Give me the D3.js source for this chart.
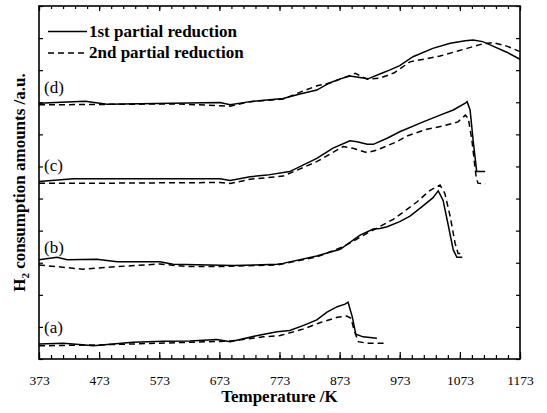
<!DOCTYPE html>
<html>
<head>
<meta charset="utf-8">
<script src="https://cdn.jsdelivr.net/npm/d3@7"></script>
<style>
  html, body { margin: 0; padding: 0; background: #fff; }
  svg { display: block; }
  text { font-family: "Liberation Serif", "Times New Roman", serif; fill: #000; }
</style>
</head>
<body>
<svg id="chart" width="547" height="413"></svg>
<script>
// H2-TPR profiles, temperature in K, signal in arbitrary units (offset per sample)
const xTickLabels = [373, 473, 573, 673, 773, 873, 973, 1073, 1173];
const yTickValues = [0, 1, 2, 3, 4, 5, 6, 7, 8, 9, 10, 11];
const seriesNames = ["1st partial reduction", "2nd partial reduction"];
const curveLabels = ["(a)", "(b)", "(c)", "(d)"];
const labelPositions = [0.8, 3.3, 5.85, 8.3]; // label baselines in a.u.

const aFirst = [[373,0.47],[413,0.49],[440,0.45],[463,0.41],[529,0.52],[580,0.55],[624,0.56],[669,0.61],[691,0.54],[741,0.75],[769,0.85],[790,0.89],[812,1.04],[835,1.22],[852,1.46],[869,1.63],[882,1.71],[887,1.77],[894,1.32],[900,0.77],[912,0.69],[935,0.65]];
const aSecond = [[373,0.41],[474,0.44],[624,0.52],[691,0.56],[746,0.69],[774,0.73],[812,0.93],[840,1.13],[869,1.30],[885,1.34],[892,1.27],[897,0.90],[904,0.54],[919,0.49],[952,0.49]];

const bFirst = [[373,3.09],[403,3.17],[420,3.09],[469,3.11],[503,3.03],[574,3.03],[596,2.95],[696,2.91],[769,2.95],[779,2.98],[835,3.21],[874,3.42],[907,3.86],[929,4.05],[940,4.07],[952,4.12],[973,4.28],[990,4.45],[1007,4.70],[1028,5.02],[1037,5.24],[1045,4.95],[1053,4.23],[1062,3.40],[1068,3.17],[1077,3.17]];
const bSecond = [[373,2.93],[446,2.80],[503,2.88],[574,2.96],[619,2.88],[669,2.88],[769,2.93],[835,3.18],[879,3.50],[919,3.92],[962,4.35],[985,4.66],[1002,4.90],[1023,5.25],[1040,5.42],[1048,5.16],[1057,4.43],[1065,3.61],[1070,3.29],[1078,3.29]];

const cFirst = [[373,5.53],[430,5.62],[674,5.62],[691,5.56],[724,5.68],[752,5.73],[790,5.84],[835,6.25],[862,6.57],[890,6.80],[902,6.77],[919,6.69],[929,6.69],[952,6.88],[973,7.08],[1012,7.39],[1040,7.60],[1062,7.76],[1082,7.97],[1085,8.02],[1090,7.76],[1095,6.82],[1101,5.84],[1115,5.84]];
const cSecond = [[373,5.48],[500,5.48],[674,5.50],[691,5.47],[724,5.60],[779,5.70],[835,6.15],[879,6.62],[895,6.57],[919,6.43],[935,6.51],[968,6.77],[985,6.95],[1018,7.16],[1045,7.26],[1070,7.39],[1082,7.60],[1087,7.50],[1093,6.82],[1100,5.68],[1103,5.48],[1115,5.45]];

const dFirst = [[373,7.97],[410,8.00],[450,8.03],[486,7.94],[674,7.99],[691,7.92],[724,8.02],[752,8.07],[779,8.12],[807,8.26],[835,8.38],[857,8.61],[874,8.73],[890,8.82],[904,8.78],[920,8.73],[945,8.92],[957,9.01],[973,9.14],[995,9.42],[1028,9.68],[1057,9.84],[1082,9.92],[1095,9.94],[1111,9.89],[1128,9.75],[1151,9.56],[1173,9.34]];
const dSecond = [[373,7.92],[450,7.93],[600,7.95],[691,7.88],[724,8.02],[779,8.10],[819,8.40],[837,8.52],[857,8.60],[899,8.90],[919,8.72],[940,8.75],[964,8.92],[990,9.26],[1040,9.44],[1085,9.68],[1111,9.82],[1128,9.86],[1151,9.75],[1173,9.58]];

const firstRuns = [aFirst, bFirst, cFirst, dFirst];
const secondRuns = [aSecond, bSecond, cSecond, dSecond];

const W = 547, H = 413;
const margin = { top: 6, right: 27, bottom: 54, left: 39 };
const svg = d3.select("#chart");

const x = d3.scaleLinear().domain([373, 1173]).range([margin.left, W - margin.right]);
const y = d3.scaleLinear().domain([0, 11]).range([H - margin.bottom, margin.top]);

const minorTicks = d3.range(373, 1174, 20);

// plotted profiles
const line = d3.line().x(d => x(d[0])).y(d => y(d[1]));
const plot = svg.append("g").attr("fill", "none").attr("stroke", "#000");
firstRuns.forEach(run => {
  plot.append("path").attr("d", line(run)).attr("stroke-width", 1.5);
});
secondRuns.forEach(run => {
  plot.append("path").attr("d", line(run)).attr("stroke-width", 1.5).attr("stroke-dasharray", "6,4");
});

// axes with inward ticks
const axisStyle = g => {
  g.select(".domain").remove();
  g.selectAll("line").attr("stroke", "#000").attr("stroke-width", 1.2);
};

// bottom: minor then major
svg.append("g").attr("transform", `translate(0,${y(0)})`)
  .call(d3.axisBottom(x).tickValues(minorTicks).tickSizeInner(-4).tickSizeOuter(0).tickFormat(""))
  .call(axisStyle);
svg.append("g").attr("transform", `translate(0,${y(0)})`)
  .call(d3.axisBottom(x).tickValues(xTickLabels).tickSizeInner(-7).tickSizeOuter(0).tickPadding(16).tickFormat(d3.format("d")))
  .call(axisStyle)
  .call(g => g.selectAll("text").attr("font-size", 13.5).attr("fill", "#000")
    .attr("font-family", '"Liberation Serif", "Times New Roman", serif'));

// top
svg.append("g").attr("transform", `translate(0,${y(11)})`)
  .call(d3.axisTop(x).tickValues(minorTicks).tickSizeInner(-3).tickSizeOuter(0).tickFormat(""))
  .call(axisStyle);
svg.append("g").attr("transform", `translate(0,${y(11)})`)
  .call(d3.axisTop(x).tickValues(xTickLabels).tickSizeInner(-5).tickSizeOuter(0).tickFormat(""))
  .call(axisStyle);

// left and right
svg.append("g").attr("transform", `translate(${x(373)},0)`)
  .call(d3.axisLeft(y).tickValues(yTickValues).tickSizeInner(-4).tickSizeOuter(0).tickFormat(""))
  .call(axisStyle);
svg.append("g").attr("transform", `translate(${x(1173)},0)`)
  .call(d3.axisRight(y).tickValues(yTickValues).tickSizeInner(-4).tickSizeOuter(0).tickFormat(""))
  .call(axisStyle);

// frame
svg.append("rect")
  .attr("x", x(373)).attr("y", y(11))
  .attr("width", x(1173) - x(373)).attr("height", y(0) - y(11))
  .attr("fill", "none").attr("stroke", "#000").attr("stroke-width", 1.6);

// curve labels
svg.append("g").selectAll("text").data(curveLabels).join("text")
  .attr("x", x(373) + 5)
  .attr("y", (d, i) => y(labelPositions[i]))
  .attr("font-size", 17)
  .text(d => d);

// legend
const legend = svg.append("g");
seriesNames.forEach((name, i) => {
  const ly = 31.5 + i * 21.5;
  legend.append("line")
    .attr("x1", 48).attr("x2", 87).attr("y1", ly).attr("y2", ly)
    .attr("stroke", "#000").attr("stroke-width", 1.5)
    .attr("stroke-dasharray", i === 1 ? "6,4" : null);
  legend.append("text")
    .attr("x", 89).attr("y", ly + 5)
    .attr("font-size", 17).attr("font-weight", "bold")
    .text(name);
});

// axis titles
svg.append("text")
  .attr("x", (x(373) + x(1173)) / 2).attr("y", 402)
  .attr("text-anchor", "middle").attr("font-size", 17).attr("font-weight", "bold")
  .text("Temperature /K");

const yTitle = svg.append("text")
  .attr("transform", `translate(25,${(y(0) + y(11)) / 2}) rotate(-90)`)
  .attr("text-anchor", "middle").attr("font-size", 17).attr("font-weight", "bold");
yTitle.append("tspan").text("H");
yTitle.append("tspan").attr("font-size", 11).attr("dy", 4).text("2");
yTitle.append("tspan").attr("dy", -4).text(" consumption amounts /a.u.");
</script>
</body>
</html>
